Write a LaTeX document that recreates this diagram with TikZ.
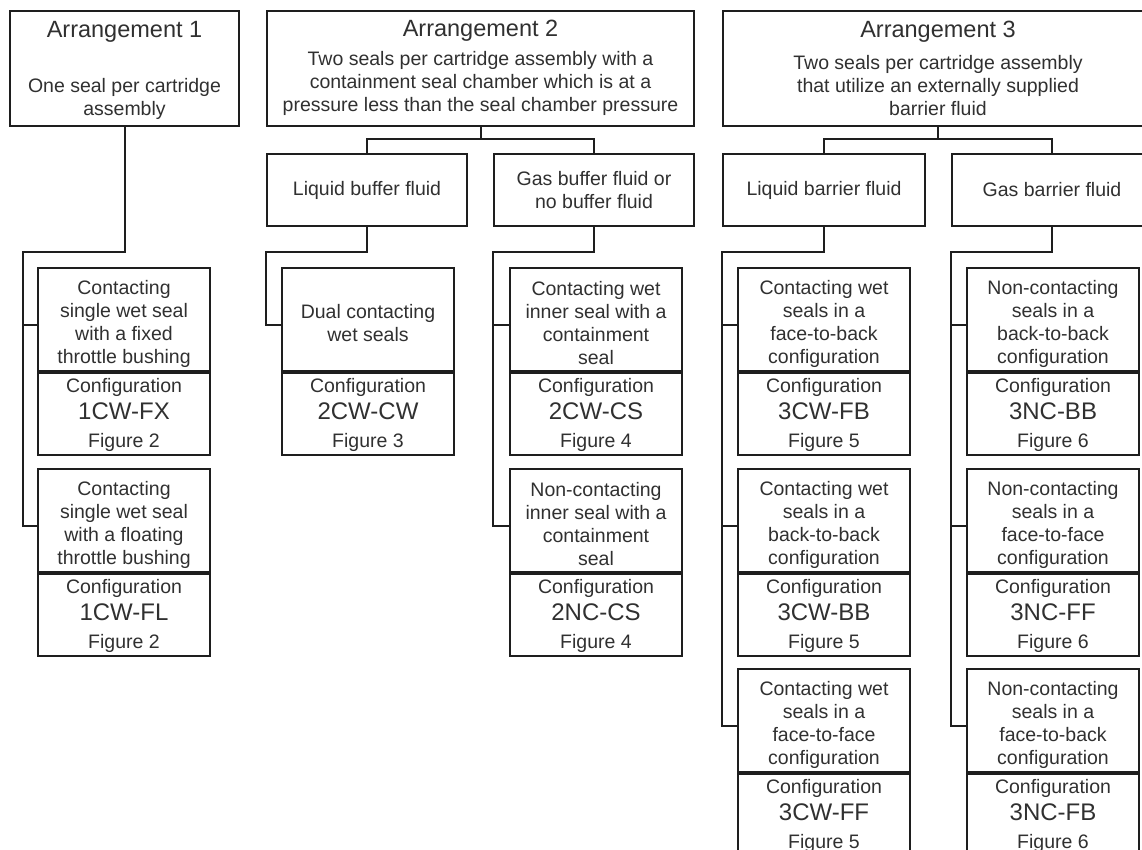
\documentclass[tikz,border=0pt]{standalone}
\usepackage{fontspec}
\setmainfont{Liberation Sans}
\definecolor{linec}{HTML}{1E1E1E}
\definecolor{textc}{HTML}{303030}
\tikzset{
  box/.style={draw=linec, line width=2pt, inner sep=0pt, anchor=north west},
  txt/.style={text=textc, font=\fontsize{19.5}{23}\selectfont, align=center, inner sep=0pt},
  ttl/.style={text=textc, font=\fontsize{23.5}{27}\selectfont, inner sep=0pt},
  codetxt/.style={text=textc, font=\fontsize{24}{28}\selectfont, inner sep=0pt, anchor=base},
  conn/.style={draw=linec, line width=2pt},
}
\newcommand\cfgbox[6]{%
  \node[box, minimum width=172pt, minimum height=103pt] (#1u) at (#2,#3) {};
  \node[txt] (#1t) at ([yshift=-4pt]#1u.center) {#4};
  \node[box, minimum width=172pt, minimum height=82pt, anchor=north] (#1l) at (#1u.south) {};
  \node[txt, anchor=base] (#1a) at ([yshift=-20pt]#1l.north) {Configuration};
  \node[codetxt] (#1c) at ([yshift=-47.5pt]#1l.north) {#5};
  \node[txt, anchor=base] (#1f) at ([yshift=-75pt]#1l.north) {Figure #6};
  \coordinate (#1h) at ([yshift=-5pt]#1u.west);
}
\begin{document}
\begin{tikzpicture}[x=1pt, y=-1pt]
\useasboundingbox (0,0) rectangle (1142,850);
\clip (0,0) rectangle (1142,850);

% top level
\node[box, minimum width=229pt, minimum height=115pt] (arr1) at (9,10) {};
\node[ttl] (arr1t) at ([yshift=-22pt]arr1.north) {Arrangement 1};
\node[txt] (arr1d) at ([yshift=-89pt]arr1.north) {One seal per cartridge\\assembly};

\node[box, minimum width=427pt, minimum height=115pt] (arr2) at (266,10) {};
\node[ttl] (arr2t) at ([yshift=-21pt]arr2.north) {Arrangement 2};
\node[txt] (arr2d) at ([yshift=-73.5pt]arr2.north) {Two seals per cartridge assembly with a\\containment seal chamber which is at a\\pressure less than the seal chamber pressure};

\node[box, minimum width=430pt, minimum height=115pt] (arr3) at (722,10) {};
\node[ttl] (arr3t) at ([yshift=-22pt]arr3.north) {Arrangement 3};
\node[txt] (arr3d) at ([yshift=-75.5pt]arr3.north) {Two seals per cartridge assembly\\that utilize an externally supplied\\barrier fluid};

% second level
\node[box, minimum width=200pt, minimum height=72pt] (lbf) at (266,153) {};
\node[txt] (lbft) at (lbf.center) {Liquid buffer fluid};
\node[box, minimum width=200pt, minimum height=72pt] (gbf) at (493,153) {};
\node[txt] (gbft) at (gbf.center) {Gas buffer fluid or\\no buffer fluid};
\node[box, minimum width=202pt, minimum height=72pt] (lbr) at (722,153) {};
\node[txt] (lbrt) at (lbr.center) {Liquid barrier fluid};
\node[box, minimum width=200pt, minimum height=72pt] (gbr) at (951,153) {};
\node[txt] (gbrt) at (gbr.center) {Gas barrier fluid};

% configuration boxes
\cfgbox{A1}{37}{267}{Contacting\\single wet seal\\with a fixed\\throttle bushing}{1CW-FX}{2}
\cfgbox{A2}{37}{468}{Contacting\\single wet seal\\with a floating\\throttle bushing}{1CW-FL}{2}
\cfgbox{B1}{281}{267}{Dual contacting\\wet seals}{2CW-CW}{3}
\cfgbox{C1}{509}{267}{Contacting wet\\inner seal with a\\containment\\seal}{2CW-CS}{4}
\cfgbox{C2}{509}{468}{Non-contacting\\inner seal with a\\containment\\seal}{2NC-CS}{4}
\cfgbox{D1}{737}{267}{Contacting wet\\seals in a\\face-to-back\\configuration}{3CW-FB}{5}
\cfgbox{D2}{737}{468}{Contacting wet\\seals in a\\back-to-back\\configuration}{3CW-BB}{5}
\cfgbox{D3}{737}{668}{Contacting wet\\seals in a\\face-to-face\\configuration}{3CW-FF}{5}
\cfgbox{E1}{966}{267}{Non-contacting\\seals in a\\back-to-back\\configuration}{3NC-BB}{6}
\cfgbox{E2}{966}{468}{Non-contacting\\seals in a\\face-to-face\\configuration}{3NC-FF}{6}
\cfgbox{E3}{966}{668}{Non-contacting\\seals in a\\face-to-back\\configuration}{3NC-FB}{6}

% junction coordinates
\coordinate (bus) at (0,139);
\coordinate (jA) at (23,252);
\coordinate (jB) at (266,252);
\coordinate (jC) at (493,252);
\coordinate (jD) at (722,252);
\coordinate (jE) at (951,252);

% arrangement 1
\draw[conn] (arr1.south) |- (jA) |- (A2h);
\draw[conn] (jA |- A1h) -- (A1h);

% arrangement 2
\draw[conn] (arr2.south) -- (arr2.south |- bus);
\draw[conn] (lbf.north) -- (lbf.north |- bus) -- (gbf.north |- bus) -- (gbf.north);
\draw[conn] (lbf.south) |- (jB) |- (B1h);
\draw[conn] (gbf.south) |- (jC) |- (C2h);
\draw[conn] (jC |- C1h) -- (C1h);

% arrangement 3
\draw[conn] (arr3.south) -- (arr3.south |- bus);
\draw[conn] (lbr.north) -- (lbr.north |- bus) -- (gbr.north |- bus) -- (gbr.north);
\draw[conn] (lbr.south) |- (jD) |- (D3h);
\draw[conn] (jD |- D1h) -- (D1h);
\draw[conn] (jD |- D2h) -- (D2h);
\draw[conn] (gbr.south) |- (jE) |- (E3h);
\draw[conn] (jE |- E1h) -- (E1h);
\draw[conn] (jE |- E2h) -- (E2h);
\end{tikzpicture}
\end{document}
